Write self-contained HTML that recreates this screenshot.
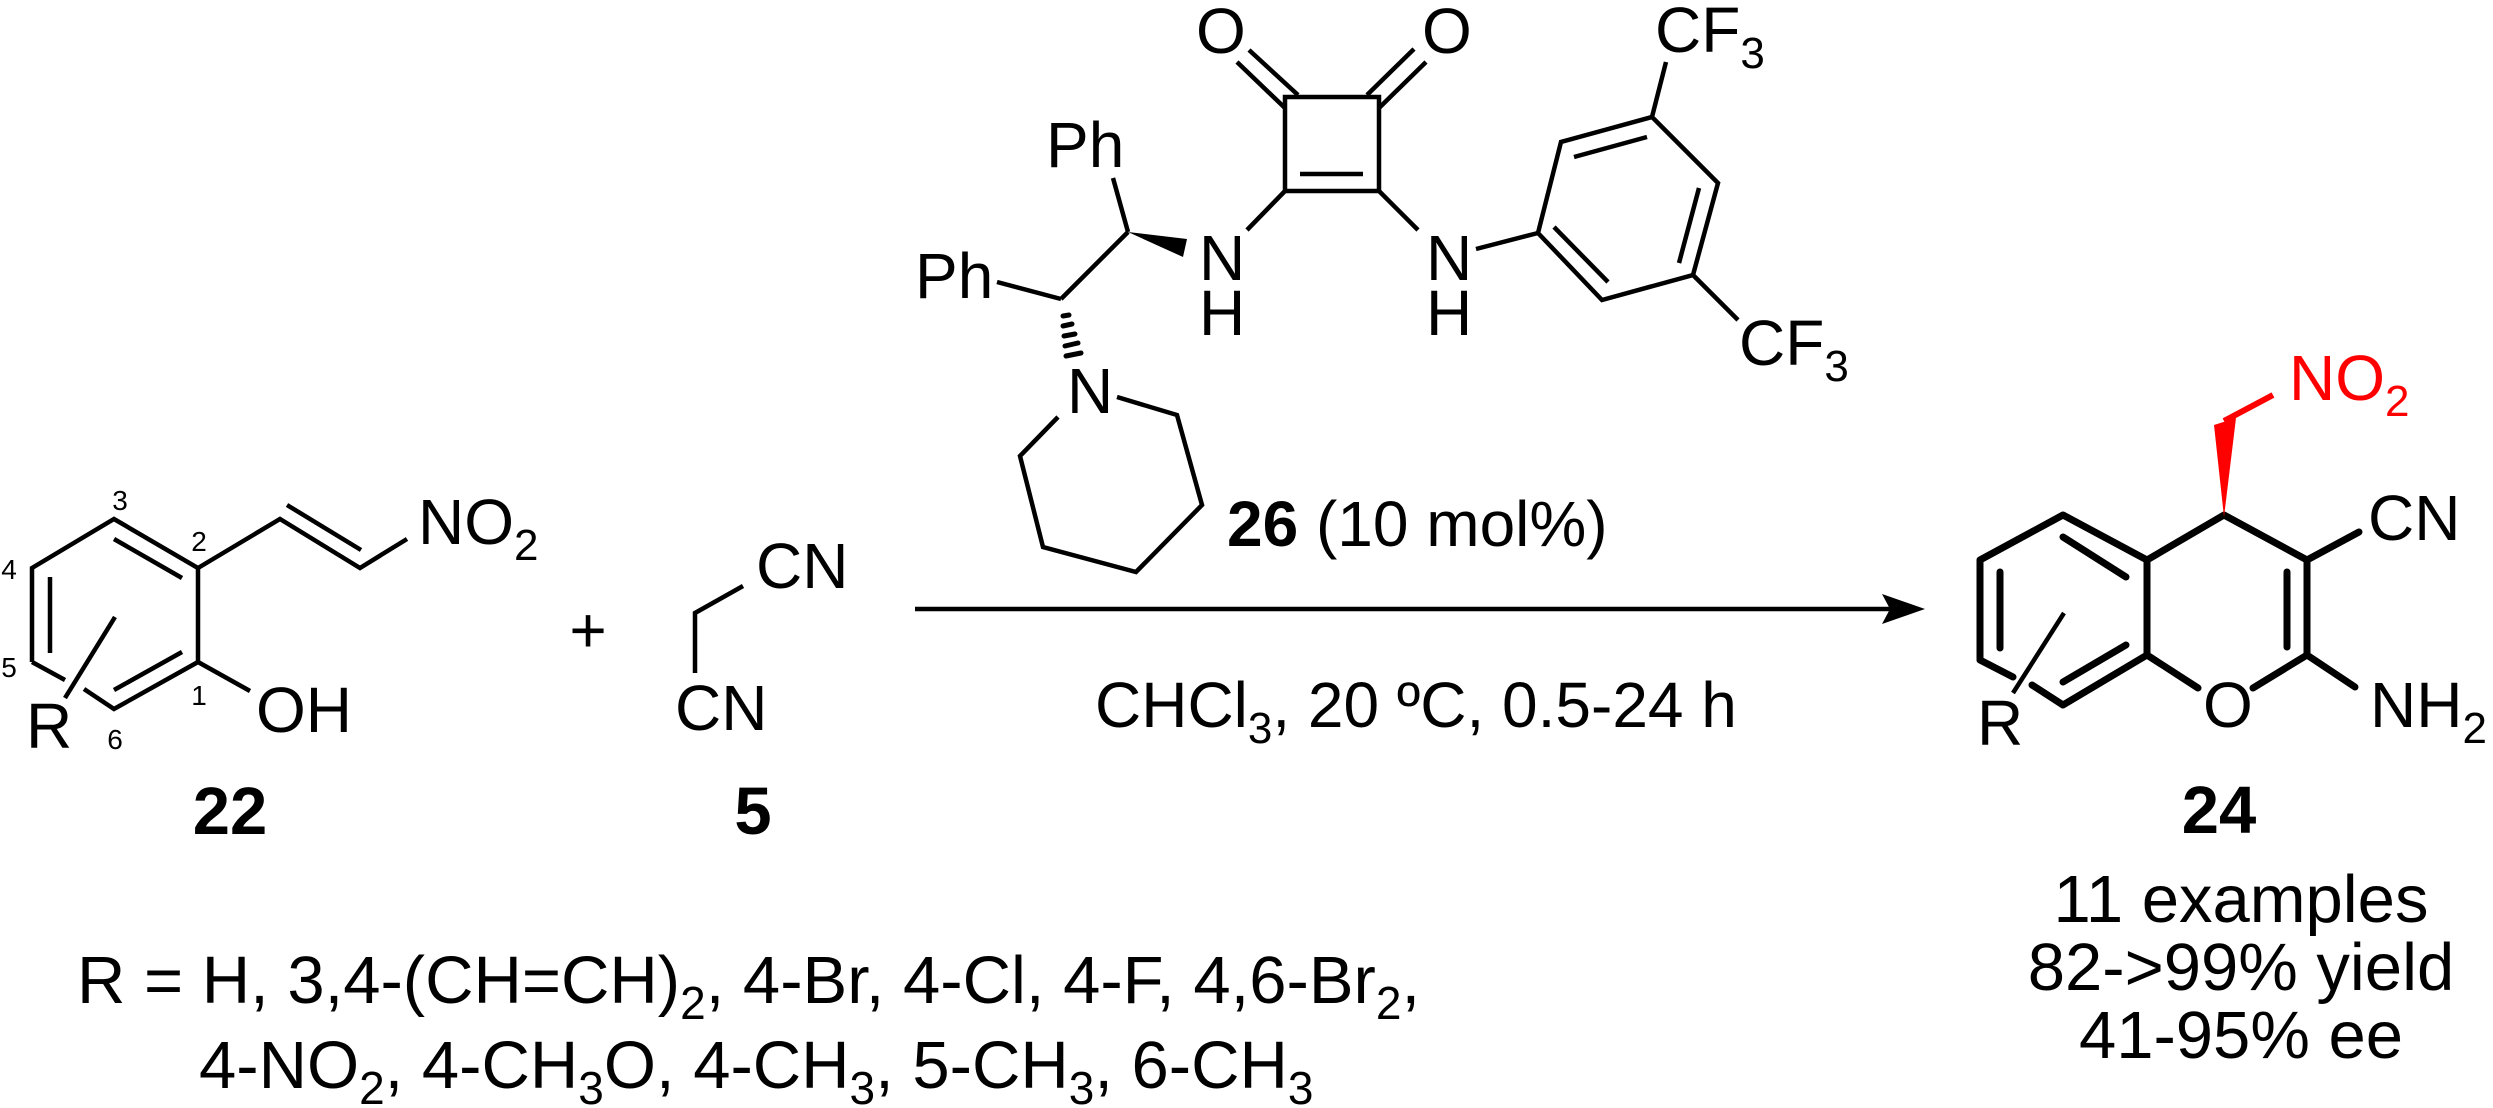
<!DOCTYPE html>
<html><head><meta charset="utf-8"><style>
html,body{margin:0;padding:0;background:#fff;}
svg{display:block;}
text{font-family:"Liberation Sans",Arial,sans-serif;fill:#000;}
</style></head><body>
<svg width="2493" height="1108" viewBox="0 0 2493 1108" xmlns="http://www.w3.org/2000/svg">
<g stroke="#000" stroke-width="4.5" fill="none" stroke-linecap="butt" stroke-linejoin="miter">
<!-- compound 22 -->
<polyline points="32,662 32,568 114,519 198,568 198,662 114,709 84,689"/>
<line x1="32" y1="662" x2="65" y2="680"/>
<line x1="114" y1="539" x2="182" y2="578"/>
<line x1="50" y1="577" x2="50" y2="653"/>
<line x1="182" y1="652" x2="114" y2="690"/>
<line x1="115" y1="617" x2="65" y2="698"/>
<polyline points="198,568 280,519 360,568 407,539"/>
<line x1="287" y1="505" x2="361" y2="550"/>
<line x1="198" y1="662" x2="250" y2="691"/>
<!-- malononitrile -->
<polyline points="743,586 695,613 695,673"/>
<!-- catalyst -->
<line x1="997" y1="282" x2="1061" y2="299"/>
<line x1="1061" y1="299" x2="1128" y2="232"/>
<line x1="1113" y1="178" x2="1128" y2="232"/>
<polyline points="1058,417 1020,456 1043,547 1136,572 1202,505 1177,415 1117,397"/>
<polygon points="1285,97 1379,97 1379,191 1285,191"/>
<line x1="1300" y1="174" x2="1363" y2="174"/>
<line x1="1285" y1="108" x2="1237" y2="62"/>
<line x1="1298" y1="95" x2="1249" y2="50"/>
<line x1="1367" y1="95" x2="1414" y2="49"/>
<line x1="1379" y1="108" x2="1426" y2="62"/>
<line x1="1285" y1="191" x2="1247" y2="230"/>
<line x1="1379" y1="191" x2="1418" y2="230"/>
<line x1="1476" y1="249" x2="1538" y2="233"/>
<polygon points="1538,233 1561,142 1652,117 1718,183 1693,275 1602,300"/>
<line x1="1574" y1="157" x2="1647" y2="137"/>
<line x1="1699" y1="188" x2="1679" y2="263"/>
<line x1="1554" y1="227" x2="1608" y2="282"/>
<line x1="1652" y1="117" x2="1666" y2="62"/>
<line x1="1693" y1="275" x2="1738" y2="320"/>
<!-- hashes -->
<g stroke-width="5" stroke-linecap="round">
<line x1="1063" y1="316" x2="1069" y2="315"/>
<line x1="1063" y1="326" x2="1072" y2="324"/>
<line x1="1064" y1="336" x2="1075" y2="334"/>
<line x1="1065" y1="346" x2="1078" y2="343"/>
<line x1="1066" y1="356" x2="1081" y2="353"/>
</g>
<!-- arrow -->
<line x1="915" y1="609" x2="1895" y2="609"/>
</g>
<polygon points="1925,609 1882,594 1890,609 1882,624" fill="#000"/>
<polygon points="1128,232 1187,239 1183,257" fill="#000"/>

<!-- product 24 -->
<g stroke="#000" stroke-width="7" fill="none" stroke-linecap="round" stroke-linejoin="round">
<polyline points="2032,685 2063,705 2147,655 2147,560 2063,515 1980,560 1980,660 2013,677"/>
<line x1="2063" y1="537" x2="2126" y2="577"/>
<line x1="2000" y1="572" x2="2000" y2="648"/>
<line x1="2126" y1="645" x2="2063" y2="682"/>
<polyline points="2147,560 2224,515 2307,560 2307,655 2253,688"/>
<line x1="2147" y1="655" x2="2198" y2="688"/>
<line x1="2287" y1="572" x2="2287" y2="647"/>
<line x1="2307" y1="655" x2="2355" y2="687"/>
<line x1="2307" y1="560" x2="2359" y2="532"/>
</g>
<line x1="2064" y1="613" x2="2013" y2="693" stroke="#000" stroke-width="4.5"/>
<polygon points="2224,517 2214,425 2236,418" fill="#f00"/>
<line x1="2224" y1="421" x2="2273" y2="395" stroke="#f00" stroke-width="6"/>

<!-- labels 22 -->
<g font-size="28" text-anchor="middle">
<text x="120" y="510">3</text><text x="199" y="551">2</text>
<text x="9" y="579">4</text><text x="9" y="677">5</text>
<text x="199" y="705">1</text><text x="115" y="749">6</text>
</g>
<g font-size="64">
<text x="418" y="544">NO<tspan font-size="44" dy="16">2</tspan></text>
<text x="256" y="732">OH</text>
<text x="26" y="748">R</text>
<text x="756" y="588">CN</text>
<text x="675" y="730">CN</text>
<text x="1046" y="167">Ph</text>
<text x="915" y="298">Ph</text>
<text x="1067" y="413">N</text>
<text x="1199" y="280">N</text><text x="1199" y="335">H</text>
<text x="1426" y="280">N</text><text x="1426" y="335">H</text>
<text x="1196" y="53">O</text><text x="1422" y="53">O</text>
<text x="1655" y="52">CF<tspan font-size="44" dy="16">3</tspan></text>
<text x="1739" y="365">CF<tspan font-size="44" dy="16">3</tspan></text>
<text x="2203" y="727">O</text>
<text x="2370" y="727">NH<tspan font-size="44" dy="16">2</tspan></text>
<text x="2368" y="540">CN</text>
<text x="1977" y="745">R</text>
<text x="2289" y="400" style="fill:#f00">NO<tspan font-size="44" dy="16" style="fill:#f00">2</tspan></text>
<text x="1227" y="546"><tspan font-weight="bold">26</tspan> (10 mol%)</text>
<text x="1095" y="727">CHCl<tspan font-size="44" dy="16">3</tspan><tspan dy="-16">, 20 ºC, 0.5-24 h</tspan></text>
</g>
<text x="588" y="652" font-size="64" text-anchor="middle">+</text>
<g font-size="67" font-weight="bold" text-anchor="middle">
<text x="230" y="834">22</text>
<text x="753" y="834">5</text>
<text x="2219" y="833">24</text>
</g>
<g font-size="67">
<text x="77" y="1003">R = H, 3,4-(CH=CH)<tspan font-size="46" dy="16">2</tspan><tspan dy="-16">, 4-Br, 4-Cl, 4-F, 4,6-Br</tspan><tspan font-size="46" dy="16">2</tspan><tspan dy="-16">,</tspan></text>
<text x="199" y="1088">4-NO<tspan font-size="46" dy="16">2</tspan><tspan dy="-16">, 4-CH</tspan><tspan font-size="46" dy="16">3</tspan><tspan dy="-16">O, 4-CH</tspan><tspan font-size="46" dy="16">3</tspan><tspan dy="-16">, 5-CH</tspan><tspan font-size="46" dy="16">3</tspan><tspan dy="-16">, 6-CH</tspan><tspan font-size="46" dy="16">3</tspan></text>
</g>
<g font-size="67" text-anchor="middle">
<text x="2241" y="922">11 examples</text>
<text x="2241" y="990">82-&gt;99% yield</text>
<text x="2241" y="1058">41-95% ee</text>
</g>
</svg>
</body></html>
